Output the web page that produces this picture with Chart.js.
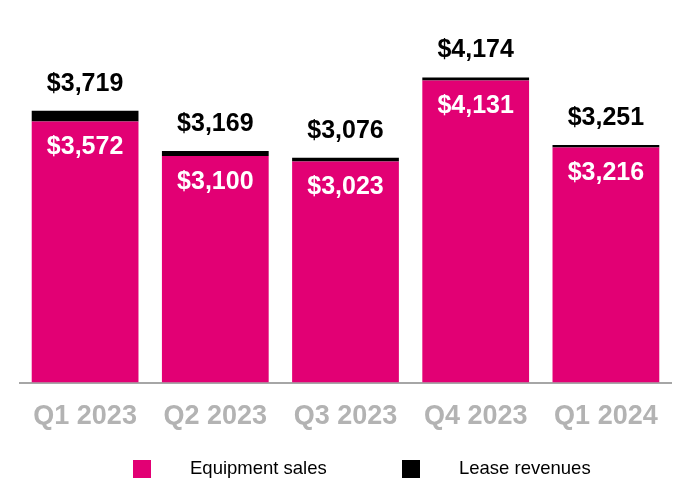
<!DOCTYPE html>
<html>
<head>
<meta charset="utf-8">
<script src="https://cdn.jsdelivr.net/npm/chart.js@4.4.1/dist/chart.umd.min.js"></script>
<style>
  html, body { margin: 0; padding: 0; background: #fff; }
  canvas { display: block; }
</style>
</head>
<body>
<canvas id="revenue" width="690" height="500"></canvas>
<script>
'use strict'

var quarters = ['Q1 2023', 'Q2 2023', 'Q3 2023', 'Q4 2023', 'Q1 2024']
var equipmentSales = [3572, 3100, 3023, 4131, 3216]
var leaseRevenues = [147, 69, 53, 43, 35]
var totals = [3719, 3169, 3076, 4174, 3251]

var MAGENTA = '#E20074'
var FONT = '"Liberation Sans", Arial, Helvetica, sans-serif'

function money(v) {
  return '$' + v.toLocaleString('en-US')
}

var barLabels = {
  id: 'barLabels',
  afterDatasetsDraw: function(chart) {
    var ctx = chart.ctx
    var sales = chart.getDatasetMeta(0).data
    var lease = chart.getDatasetMeta(1).data
    ctx.save()
    ctx.textAlign = 'center'
    ctx.textBaseline = 'middle'
    ctx.font = 'bold 25px ' + FONT
    sales.forEach(function(bar, i) {
      ctx.fillStyle = '#ffffff'
      ctx.fillText(money(equipmentSales[i]), bar.x, bar.y + 26)
      ctx.fillStyle = '#000000'
      ctx.fillText(money(totals[i]), lease[i].x, lease[i].y - 27)
    })
    ctx.restore()
  }
}

var bottomLegend = {
  id: 'bottomLegend',
  afterDraw: function(chart) {
    var ctx = chart.ctx
    var slots = [133, 402]
    ctx.save()
    ctx.font = '18.5px ' + FONT
    ctx.textBaseline = 'middle'
    ctx.textAlign = 'left'
    chart.data.datasets.forEach(function(ds, i) {
      ctx.fillStyle = ds.backgroundColor
      ctx.fillRect(slots[i], 460, 18, 18)
      ctx.fillStyle = '#000000'
      ctx.fillText(ds.label, slots[i] + 57, 469)
    })
    ctx.restore()
  }
}

var ctx = document.getElementById('revenue').getContext('2d')
var revenueChart = new Chart(ctx, {
  type: 'bar',
  data: {
    labels: quarters,
    datasets: [
      { label: 'Equipment sales', data: equipmentSales, backgroundColor: MAGENTA },
      { label: 'Lease revenues', data: leaseRevenues, backgroundColor: '#000000' }
    ]
  },
  options: {
    responsive: false,
    animation: false,
    devicePixelRatio: 1,
    barPercentage: 0.82,
    categoryPercentage: 1,
    layout: { padding: { top: 17, left: 20, right: 19, bottom: 49 } },
    plugins: {
      legend: { display: false },
      tooltip: { enabled: false }
    },
    scales: {
      x: {
        stacked: true,
        grid: { display: false, drawTicks: false },
        border: { display: true, color: '#a6a6a6', width: 2 },
        ticks: {
          color: '#b3b3b3',
          padding: 18,
          font: { family: FONT, size: 27, weight: 'bold' }
        }
      },
      y: {
        stacked: true,
        display: false,
        min: 0,
        max: 5000
      }
    }
  },
  plugins: [barLabels, bottomLegend]
})
</script>
</body>
</html>
